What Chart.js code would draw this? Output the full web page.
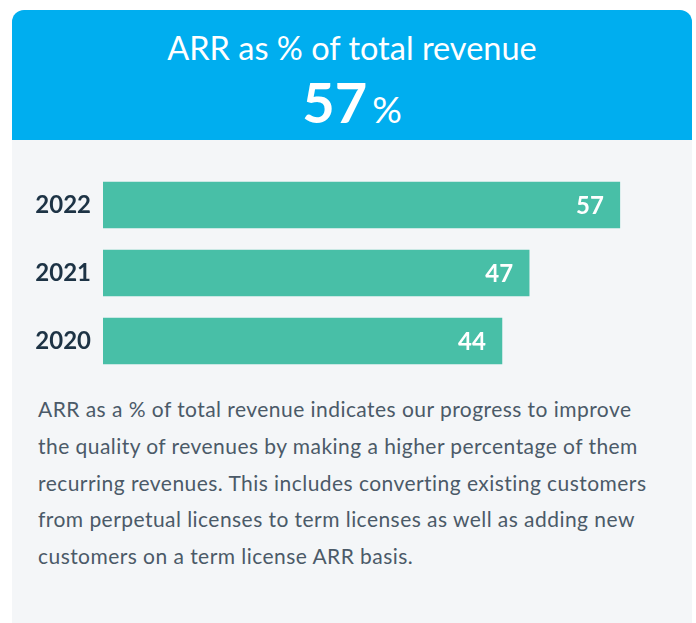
<!DOCTYPE html>
<html>
<head>
<meta charset="utf-8">
<script src="https://cdn.jsdelivr.net/npm/chart.js@4"></script>
<style>
  html, body { margin: 0; padding: 0; background: #ffffff; width: 696px; height: 623px; overflow: hidden; }
  body { position: relative; font-family: Lato, "Open Sans", sans-serif; }
  #card { position: absolute; left: 12px; top: 10px; width: 680px; height: 640px; background: #f4f6f8; border-radius: 12px 12px 0 0; overflow: hidden; }
  #head { position: absolute; left: 0; top: 0; width: 680px; height: 130px; background: #00aeef; color: #fff; }
  #title { position: absolute; left: 0; width: 680px; top: 19px; text-align: center; font-size: 32.5px; line-height: 38px; }
  #big { position: absolute; left: 0; width: 680px; top: 62px; text-align: center; line-height: 60px; font-weight: 700; }
  #big .n { font-size: 56px; }
  #big .p { font-size: 37px; font-weight: 400; margin-left: 5px; }
  #c { position: absolute; left: 0; top: 150px; }
  #para { position: absolute; left: 26px; top: 381px; width: 650px; font-size: 21px; letter-spacing: 0.45px; line-height: 36.8px; color: #4b5a68; white-space: nowrap; }
</style>
</head>
<body>
<div id="card">
  <div id="head">
    <div id="title">ARR as % of total revenue</div>
    <div id="big"><span class="n">57</span><span class="p">%</span></div>
  </div>
  <canvas id="c" width="680" height="230"></canvas>
  <div id="para">ARR as a % of total revenue indicates our progress to improve<br>the quality of revenues by making a higher percentage of them<br>recurring revenues. This includes converting existing customers<br>from perpetual licenses to term licenses as well as adding new<br>customers on a term license ARR basis.</div>
</div>
<script>
const years = ['2022', '2021', '2020'];
const arrShare = [57, 47, 44];

const valueLabels = {
  id: 'valueLabels',
  afterDatasetsDraw(chart) {
    const ctx = chart.ctx;
    const meta = chart.getDatasetMeta(0);
    ctx.save();
    ctx.fillStyle = '#ffffff';
    ctx.font = 'bold 24px Lato';
    ctx.textAlign = 'right';
    ctx.textBaseline = 'middle';
    meta.data.forEach((bar, i) => {
      ctx.fillText(String(chart.data.datasets[0].data[i]), bar.x - 16, bar.y + 1);
    });
    ctx.restore();
  }
};

new Chart(document.getElementById('c'), {
  type: 'bar',
  data: {
    labels: years,
    datasets: [{
      data: arrShare,
      backgroundColor: '#48bfa7',
      borderWidth: 0,
      barThickness: 46
    }]
  },
  options: {
    indexAxis: 'y',
    responsive: false,
    animation: false,
    devicePixelRatio: 1,
    layout: { padding: { top: 11, bottom: 15, left: 0, right: 45 } },
    plugins: { legend: { display: false }, tooltip: { enabled: false } },
    scales: {
      x: { display: false, min: 0, max: 60 },
      y: {
        grid: { display: false, drawTicks: false },
        border: { display: false },
        ticks: { color: '#1d3345', font: { family: 'Lato', size: 24, weight: 'bold' }, padding: 12 },
        afterFit(scale) { scale.width = 91; scale.paddingTop = 0; scale.paddingBottom = 0; }
      }
    }
  },
  plugins: [valueLabels]
});
</script>
</body>
</html>
